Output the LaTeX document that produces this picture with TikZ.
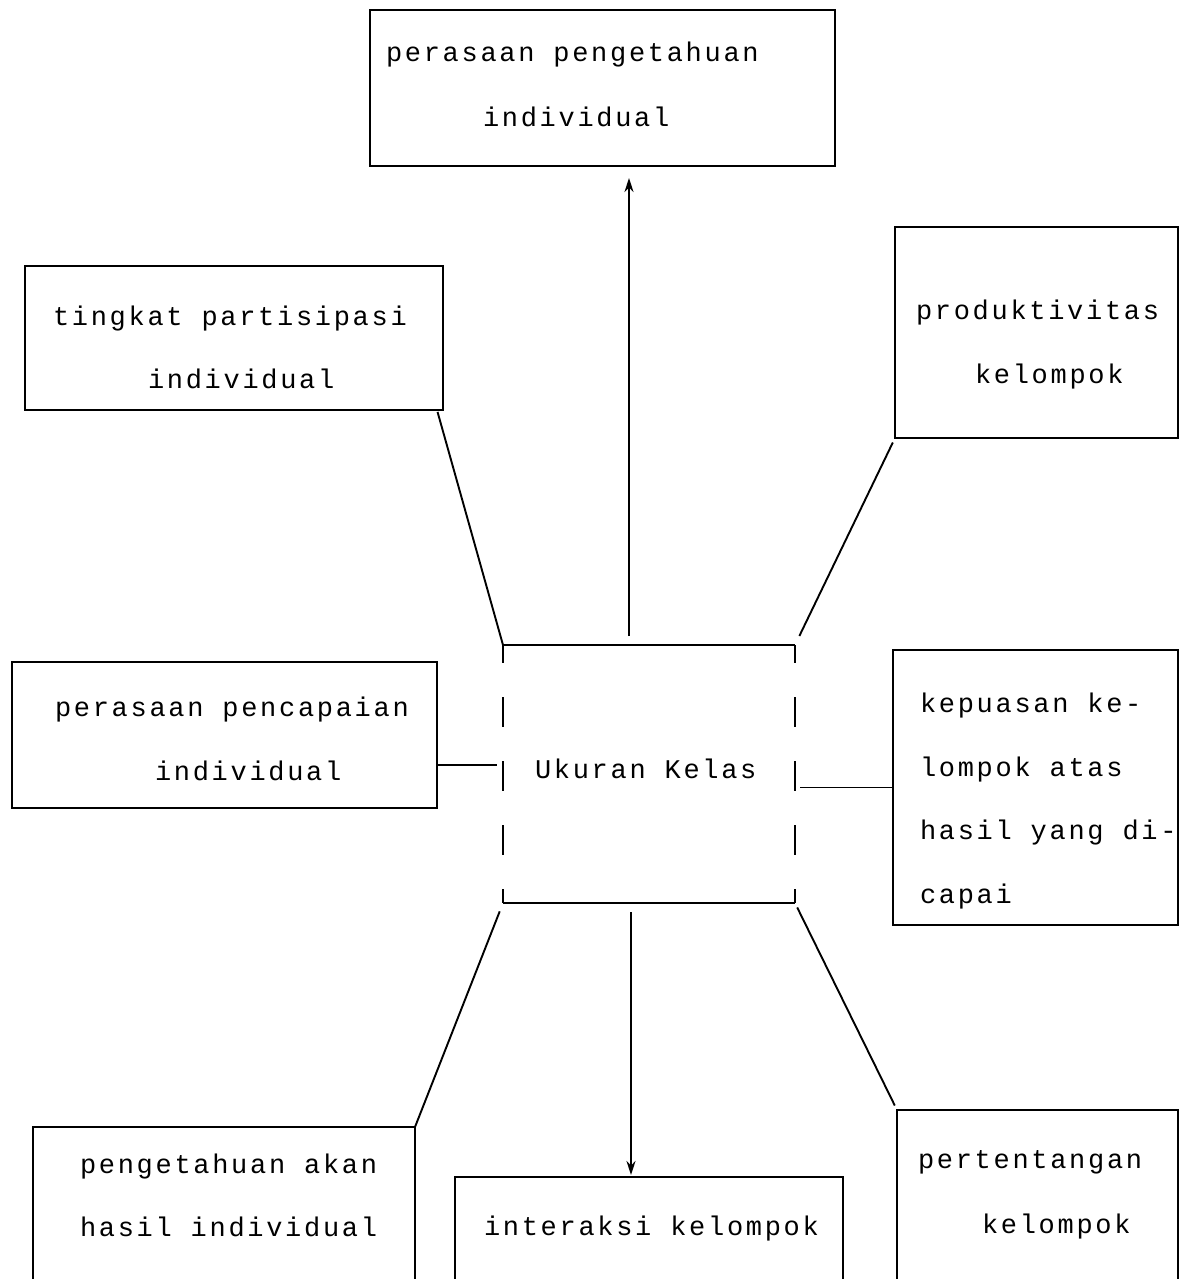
\documentclass[tikz,border=0pt]{standalone}
\usepackage{fontspec}
\usetikzlibrary{arrows.meta,calc}
\newfontfamily\dotfont{Liberation Mono}[LetterSpace=10]
\begin{document}
\begin{tikzpicture}[x=1pt,y=-1pt,
  box/.style={draw,line width=2pt,rectangle,inner sep=0pt,outer sep=0pt,anchor=north west},
  txt/.style={inner sep=0pt,outer sep=0pt,anchor=base west,font=\dotfont\fontsize{27}{30}\selectfont},
  conn/.style={line width=1.9pt},
  arr/.style={conn,-{Stealth[length=14pt,width=9pt]}},
  sidedash/.style={line width=1.9pt,dash pattern=on 30pt off 34pt,dash phase=12pt}]
\useasboundingbox (0,0) rectangle (1180,1279);
\fill[white] (0,0) rectangle (1180,1279);
\clip (0,0) rectangle (1180,1279);

% boxes
\node[box,minimum width=465pt,minimum height=156pt] (b1) at (370,10) {};
\node[box,minimum width=418pt,minimum height=144pt] (tp) at (25,266) {};
\node[box,minimum width=283pt,minimum height=211pt] (pk) at (895,227) {};
\node[box,minimum width=425pt,minimum height=146pt] (pp) at (12,662) {};
\node[box,draw=none,minimum width=292pt,minimum height=258pt] (ctr) at (503,645) {};
\node[box,minimum width=285pt,minimum height=275pt] (kp) at (893,650) {};
\node[box,minimum width=382pt,minimum height=200pt] (pa) at (33,1127) {};
\node[box,minimum width=388pt,minimum height=150pt] (ia) at (455,1177) {};
\node[box,minimum width=281pt,minimum height=200pt] (pt) at (897,1110) {};

% centre box edges
\draw[conn] (ctr.north west) -- (ctr.north east);
\draw[conn] (ctr.south west) -- (ctr.south east);
\draw[sidedash] (ctr.north west) -- (ctr.south west);
\draw[sidedash] (ctr.north east) -- (ctr.south east);

% texts
\node[txt] (b1a) at (386,62) {perasaan pengetahuan};
\node[txt] (b1b) at (483,127) {individual};
\node[txt] (tpa) at (53,325) {tingkat partisipasi};
\node[txt] (tpb) at (148,388) {individual};
\node[txt] (pka) at (916,319) {produktivitas};
\node[txt] (pkb) at (975,383) {kelompok};
\node[txt] (ppa) at (55,716) {perasaan pencapaian};
\node[txt] (ppb) at (155,780) {individual};
\node[txt] (ctra) at (535,778) {Ukuran Kelas};
\node[txt] (kpa) at (920,712) {kepuasan ke-};
\node[txt] (kpb) at (920,776) {lompok atas};
\node[txt] (kpc) at (920,839) {hasil yang di-};
\node[txt] (kpd) at (920,903) {capai};
\node[txt] (paa) at (80,1173) {pengetahuan akan};
\node[txt] (pab) at (80,1236) {hasil individual};
\node[txt] (iaa) at (484,1235) {interaksi kelompok};
\node[txt] (pta) at (918,1168) {pertentangan};
\node[txt] (ptb) at (982,1233) {kelompok};

% connectors
\draw[arr,shorten <=9pt,shorten >=12pt] ([xshift=-20pt]ctr.north) -- ([xshift=-20pt]ctr.north |- b1.south);
\draw[conn,shorten <=2pt] ([xshift=-6pt]tp.south east) -- (ctr.north west);
\draw[conn,shorten <=5pt,shorten >=10pt] (pk.south west) -- (ctr.north east);
\draw[conn,shorten >=6pt] ([yshift=-30pt]pp.east) -- ([yshift=-30pt]pp.east -| ctr.west);
\draw[conn,shorten >=5pt] (kp.west) -- (kp.west -| ctr.east);
\draw[conn,shorten <=9pt] (ctr.south west) -- (pa.north east);
\draw[arr,shorten <=9pt,shorten >=2pt] ([xshift=-18pt]ctr.south) -- ([xshift=-18pt]ctr.south |- ia.north);
\draw[conn,shorten <=5pt,shorten >=5pt] (ctr.south east) -- (pt.north west);
\end{tikzpicture}
\end{document}
